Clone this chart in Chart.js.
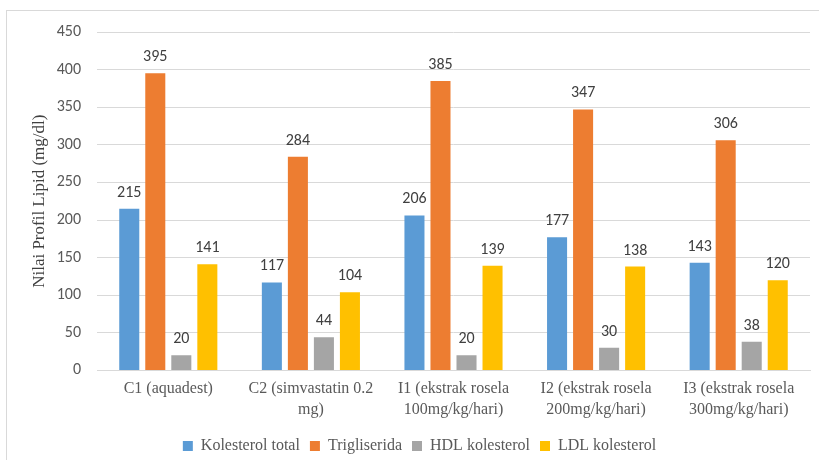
<!DOCTYPE html>
<html>
<head>
<meta charset="utf-8">
<script src="https://cdn.jsdelivr.net/npm/chart.js@4.4.1/dist/chart.umd.min.js"></script>
<style>
  html, body { margin: 0; padding: 0; background: #fff; overflow: hidden; }
  #frame {
    position: absolute; left: 6px; top: 10px;
    width: 820px; height: 460px;
    border: 1px solid #d9d9d9; box-sizing: border-box;
  }
  #wrap { position: absolute; left: 0; top: 0; width: 812px; height: 449px; }
</style>
</head>
<body>
<div id="frame"><div id="wrap"><canvas id="c"></canvas></div></div>
<script>
const categories = [
  ["C1 (aquadest)"],
  ["C2 (simvastatin 0.2", "mg)"],
  ["I1 (ekstrak rosela", "100mg/kg/hari)"],
  ["I2 (ekstrak rosela", "200mg/kg/hari)"],
  ["I3 (ekstrak rosela", "300mg/kg/hari)"]
];
const kolesterolTotal = [215, 117, 206, 177, 143];
const trigliserida = [395, 284, 385, 347, 306];
const hdlKolesterol = [20, 44, 20, 30, 38];
const ldlKolesterol = [141, 104, 139, 138, 120];
const yTicks = [0, 50, 100, 150, 200, 250, 300, 350, 400, 450];

const numFont = "Carlito, Lato, 'Open Sans', sans-serif";
const serifFont = "'Liberation Serif', 'DejaVu Serif', serif";

// Writes each bar's value just above it
const valueLabels = {
  id: 'valueLabels',
  afterDatasetsDraw(chart) {
    const ctx = chart.ctx;
    ctx.save();
    ctx.font = "16px " + numFont;
    ctx.fillStyle = '#404040';
    ctx.textAlign = 'center';
    ctx.textBaseline = 'alphabetic';
    chart.data.datasets.forEach((ds, i) => {
      chart.getDatasetMeta(i).data.forEach((bar, j) => {
        ctx.fillText(String(ds.data[j]), bar.x, bar.y - 12);
      });
    });
    ctx.restore();
  }
};

new Chart(document.getElementById('c'), {
  type: 'bar',
  data: {
    labels: categories,
    datasets: [
      { label: 'Kolesterol total', data: kolesterolTotal, backgroundColor: '#5B9BD5' },
      { label: 'Trigliserida', data: trigliserida, backgroundColor: '#ED7D31' },
      { label: 'HDL kolesterol', data: hdlKolesterol, backgroundColor: '#A5A5A5' },
      { label: 'LDL kolesterol', data: ldlKolesterol, backgroundColor: '#FFC000' }
    ]
  },
  options: {
    responsive: true,
    maintainAspectRatio: false,
    animation: false,
    categoryPercentage: 0.73,
    barPercentage: 0.77,
    layout: { padding: { top: 2, right: 9, left: 22, bottom: -4 } },
    plugins: {
      tooltip: { enabled: false },
      legend: {
        position: 'bottom',
        labels: {
          font: { family: serifFont, size: 16 },
          color: '#595959',
          boxWidth: 10,
          boxHeight: 10,
          padding: 10
        }
      }
    },
    scales: {
      x: {
        grid: { display: false, drawTicks: false },
        border: { color: '#d9d9d9' },
        ticks: {
          font: { family: serifFont, size: 16, lineHeight: 1.3 },
          color: '#595959',
          maxRotation: 0,
          autoSkip: false,
          padding: 8
        }
      },
      y: {
        min: 0, max: 450,
        afterBuildTicks(axis) { axis.ticks = yTicks.map(v => ({ value: v })); },
        afterFit(axis) { axis.width = 68; axis.paddingTop = 21; },
        grid: { color: '#d9d9d9', drawTicks: false },
        border: { display: false },
        ticks: {
          font: { family: numFont, size: 16 },
          color: '#595959',
          padding: 16
        },
        title: {
          display: true,
          text: 'Nilai Profil Lipid (mg/dl)',
          font: { family: serifFont, size: 17 },
          color: '#404040',
          padding: { top: 0, bottom: 0 }
        }
      }
    }
  },
  plugins: [valueLabels]
});
</script>
</body>
</html>
